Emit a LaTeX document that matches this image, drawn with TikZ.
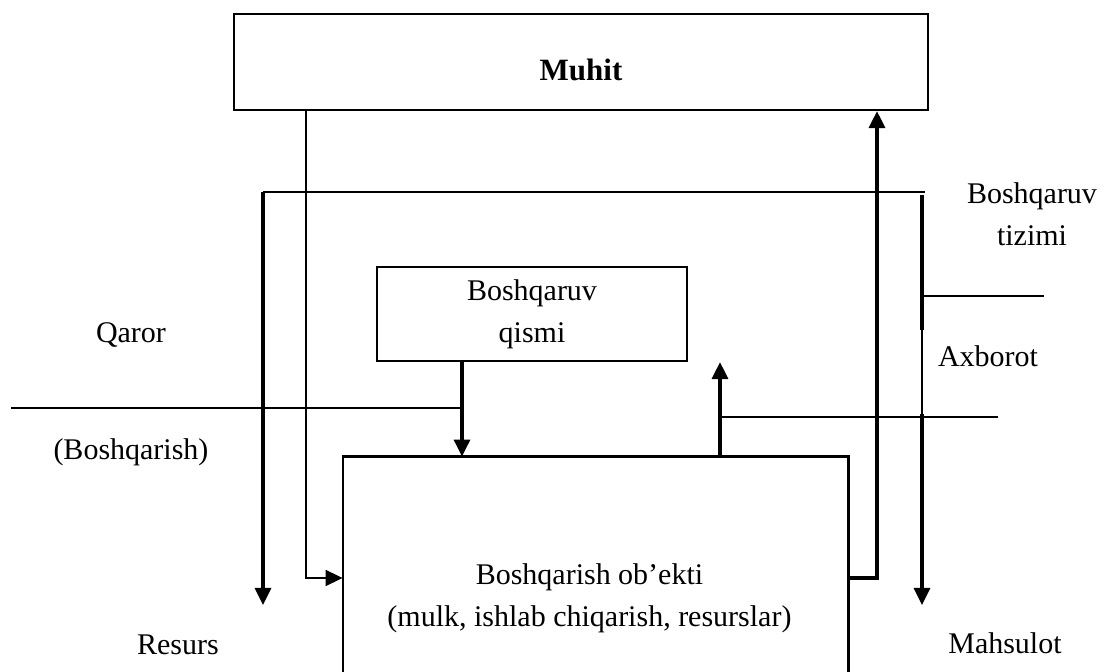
\documentclass[tikz,border=0pt]{standalone}
\usepackage{fontspec}
\setmainfont{Liberation Serif}
\usetikzlibrary{arrows.meta,positioning}
\tikzset{
blok/.style={
  draw,
  line width=1.1pt,
  inner sep=0pt,
  align=center,
  font=\fontsize{15}{21}\selectfont
  },
yozuv/.style={
  inner sep=0pt,
  align=center,
  font=\fontsize{15}{21}\selectfont
  },
ingichka/.style={line width=0.8pt},
qalin/.style={line width=1.6pt}
}

\begin{document}
\begin{tikzpicture}[x=0.5pt,y=-0.5pt,>={Triangle[length=8.5pt,width=8pt]}]
\useasboundingbox (0,0) rectangle (1105,672);

% blocks
\node[blok, minimum width=347pt, minimum height=48pt] (muhit) at (581,62) {};
\node[yozuv, font=\fontsize{15.5}{21}\selectfont\bfseries, below=4pt of muhit.center, anchor=center] (muhitT) {Muhit};

\node[blok, minimum width=155pt, minimum height=47pt] (qism) at (532,314)
  {Boshqaruv\\qismi};

\node[minimum width=252.5pt, minimum height=107.5pt, inner sep=0pt] (obj) at (595.5,564.5) {};
\draw[line width=1.1pt] (obj.south west) |- (obj.north east) -- (obj.south east);
\node[yozuv, anchor=center] (objT) at ([xshift=-3pt,yshift=-17pt]obj.center)
  {Boshqarish ob’ekti\\(mulk, ishlab chiqarish, resurslar)};

% bends and free ends
\coordinate (kirish) at (306,578);
\coordinate (chiqish) at (877,578);
\coordinate (tizimL) at (263,192);
\coordinate (tizimR) at (925,192);
\coordinate (resursEnd) at (263,605);
\coordinate (mahsulotTop) at (922,195);
\coordinate (uzilish1) at (922,330);
\coordinate (uzilish2) at (922,414);
\coordinate (mahsulotEnd) at (922,605);
\coordinate (tizimTick) at (1044,296);
\coordinate (axborotL) at (720,417);
\coordinate (axborotR) at (998,417);
\coordinate (qarorL) at (11,408);
\coordinate (qarorR) at (462,408);

% environment <-> object
\draw[ingichka,->] (muhit.south -| kirish) |- (obj.west |- kirish);
\draw[qalin,->] (obj.east |- chiqish) -| (muhit.south -| chiqish);

% control system frame
\draw[ingichka] (tizimL) -- (tizimR);
\draw[qalin,->] (tizimL) -- (resursEnd);
\draw[qalin] (mahsulotTop) -- (uzilish1);
\draw[ingichka] (uzilish1) -- (uzilish2);
\draw[qalin,->] (uzilish2) -- (mahsulotEnd);
\draw[ingichka] (mahsulotTop |- tizimTick) -- (tizimTick);

% feedback and decisions
\draw[ingichka] (axborotL) -- (axborotR);
\draw[qalin,->] (obj.north -| axborotL) -- (qism.south -| axborotL);
\draw[ingichka] (qarorL) -- (qarorR);
\draw[qalin,->] (qism.south -| qarorR) -- (obj.north -| qarorR);

% labels
\node[yozuv] (qaror) at (131,335) {Qaror};
\node[yozuv] (boshqarish) at (131,452) {(Boshqarish)};
\node[yozuv] (resurs) at (178,645) {Resurs};
\node[yozuv] (mahsulot) at (1005,643) {Mahsulot};
\node[yozuv] (tizim) at (1032,214) {Boshqaruv\\tizimi};
\node[yozuv] (axborot) at (988,356) {Axborot};

\end{tikzpicture}
\end{document}
